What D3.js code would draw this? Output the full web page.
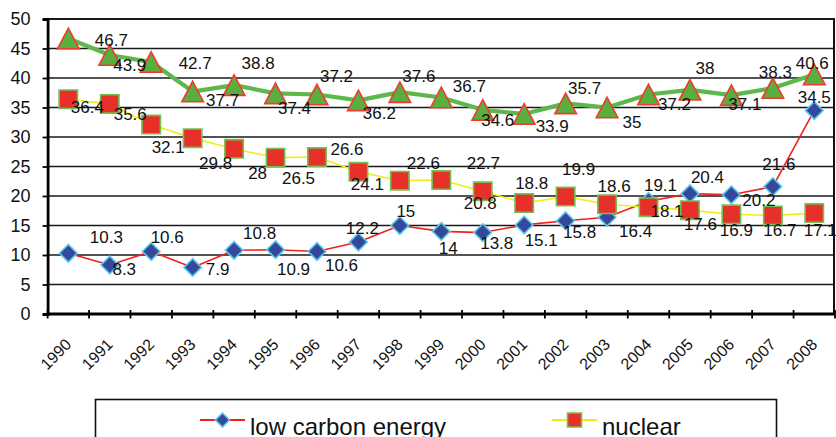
<!DOCTYPE html>
<html>
<head>
<meta charset="utf-8">
<script src="https://cdn.jsdelivr.net/npm/d3@7"></script>
<style>
  html, body { margin: 0; padding: 0; background: #fff; }
  svg { display: block; font-family: "Liberation Sans", Arial, sans-serif; }
</style>
</head>
<body>
<svg id="chart" width="836" height="437"></svg>
<script>
// ---- data ----
const years = ["1990","1991","1992","1993","1994","1995","1996","1997","1998","1999",
               "2000","2001","2002","2003","2004","2005","2006","2007","2008"];
const lowCarbon = [10.3, 8.3, 10.6, 7.9, 10.8, 10.9, 10.6, 12.2, 15, 14,
                   13.8, 15.1, 15.8, 16.4, 19.1, 20.4, 20.2, 21.6, 34.5];
const nuclear = [36.4, 35.6, 32.1, 29.8, 28, 26.5, 26.6, 24.1, 22.6, 22.7,
                 20.8, 18.8, 19.9, 18.6, 18.1, 17.6, 16.9, 16.7, 17.1];
const renewables = [46.7, 43.9, 42.7, 37.7, 38.8, 37.4, 37.2, 36.2, 37.6, 36.7,
                    34.6, 33.9, 35.7, 35, 37.2, 38, 37.1, 38.3, 40.6];
const yTicks = [0, 5, 10, 15, 20, 25, 30, 35, 40, 45, 50];
const legendNames = ["low carbon energy", "nuclear"];

// ---- label placement (offset of label centre from its marker, px) ----
const lowCarbonLabelOffsets = [[38,-16.5],[14.5,3.5],[16,-15],[25,1],[25.5,-17],[18,19],[24.5,13.5],
  [4,-14.5],[6,-14.5],[7,16],[14,10],[17,15],[14,11],[28.5,14],[12,-16],[17.5,-16.5],[27.5,5],[6,-23],[0,-14]];
const nuclearLabelOffsets = [[19,7.5],[20.5,10],[17,22],[23,25],[23.5,24],[23,20],[30,-8.5],[9,12],
  [23.5,-18],[42,-17],[-2.5,12],[7.5,-20.5],[13,-27.5],[7,-18],[18.5,4],[10.5,14],[5,16],[7,14.5],[6,17]];
const renewablesLabelOffsets = [[43,1.5],[20,10],[44,1],[30,8],[24,-22],[19,15],[19.5,-18.5],[21,12.6],
  [19,-16],[28,-11.5],[15,10],[28,12],[19,-15],[25,14.5],[26,9.5],[15,-22],[13.5,9],[2.5,-16],[-2,-11.5]];

// ---- layout ----
const plot = { left: 47.6, right: 835, top: 19, bottom: 314 };

const svg = d3.select("#chart");

const x = d3.scaleBand().domain(years).range([plot.left, plot.right]).paddingInner(0).paddingOuter(0);
const y = d3.scaleLinear().domain([0, 50]).range([plot.bottom, plot.top]);
const cx = d => x(d) + x.bandwidth() / 2;

// gridlines
svg.append("g").selectAll("line").data(yTicks.filter(t => t > 0)).join("line")
  .attr("x1", plot.left).attr("x2", plot.right)
  .attr("y1", d => y(d)).attr("y2", d => y(d))
  .attr("stroke", "#1a1a1a").attr("stroke-width", d => d === 50 ? 2 : 1.6);

// right border
svg.append("line")
  .attr("x1", plot.right - 1).attr("x2", plot.right - 1)
  .attr("y1", y(50)).attr("y2", y(0))
  .attr("stroke", "#111").attr("stroke-width", 2);

// y axis
const yAxis = svg.append("g")
  .attr("transform", `translate(${plot.left},0)`)
  .call(d3.axisLeft(y).tickValues(yTicks).tickSize(5).tickPadding(12).tickFormat(d3.format("d")));
yAxis.select(".domain").attr("stroke", "#000").attr("stroke-width", 2.8);
yAxis.selectAll(".tick line").attr("stroke", "#000").attr("stroke-width", 1.8);
yAxis.selectAll(".tick text").attr("font-size", 18).attr("fill", "#111")
  .attr("font-family", "Liberation Sans, Arial, sans-serif");

// x axis labels (rotated) via axisBottom on the band scale
const xAxis = svg.append("g")
  .attr("transform", `translate(0,${plot.bottom})`)
  .call(d3.axisBottom(x).tickSize(0).tickPadding(0));
xAxis.select(".domain").remove();
xAxis.selectAll(".tick text")
  .attr("font-size", 16).attr("fill", "#111")
  .attr("font-family", "Liberation Sans, Arial, sans-serif")
  .attr("text-anchor", "end").attr("dy", null).attr("y", 0)
  .attr("transform", "translate(4,31.5) rotate(-45)");

// x axis line with crossing tick marks at category boundaries
const boundaries = years.map(d => x(d)).concat([x(years[years.length - 1]) + x.bandwidth()]);
svg.append("line")
  .attr("x1", plot.left).attr("x2", plot.right)
  .attr("y1", plot.bottom).attr("y2", plot.bottom)
  .attr("stroke", "#000").attr("stroke-width", 2.8);
svg.append("g").selectAll("line").data(boundaries).join("line")
  .attr("x1", d => d).attr("x2", d => d)
  .attr("y1", plot.bottom - 4).attr("y2", plot.bottom + 4.5)
  .attr("stroke", "#000").attr("stroke-width", 1.8);

// marker shapes
const diamondPath = r => `M0,${-r}L${r},0L0,${r}L${-r},0Z`;
const squarePath = s => `M${-s},${-s}H${s}V${s}H${-s}Z`;
const trianglePath = (hw, h) => `M0,${-h / 2}L${hw},${h / 2}L${-hw},${h / 2}Z`;

const series = [
  { values: lowCarbon, line: "#f0201c", lineWidth: 1.6, fill: "#34499b", stroke: "#5ec8e8",
    shape: diamondPath(8.8), offsets: lowCarbonLabelOffsets },
  { values: nuclear, line: "#f0ee14", lineWidth: 1.6, fill: "#e8302a", stroke: "#72c052",
    shape: squarePath(9.2), offsets: nuclearLabelOffsets },
  { values: renewables, line: "#5cb84a", lineWidth: 4.2, fill: "#5aae3e", stroke: "#f03a30",
    shape: trianglePath(10.8, 20.5), offsets: renewablesLabelOffsets }
];

const lineGen = d3.line().x((v, i) => cx(years[i])).y(v => y(v));

series.forEach(s => {
  const g = svg.append("g");
  g.append("path").attr("d", lineGen(s.values))
    .attr("fill", "none").attr("stroke", s.line).attr("stroke-width", s.lineWidth)
    .attr("stroke-linejoin", "round");
  g.selectAll("path.mark").data(s.values).join("path").attr("class", "mark")
    .attr("d", s.shape)
    .attr("transform", (v, i) => `translate(${cx(years[i])},${y(v)})`)
    .attr("fill", s.fill).attr("stroke", s.stroke).attr("stroke-width", 1.6);
});

// value labels on top
series.forEach(s => {
  svg.append("g").selectAll("text").data(s.values).join("text")
    .attr("x", (v, i) => cx(years[i]) + s.offsets[i][0])
    .attr("y", (v, i) => y(v) + s.offsets[i][1])
    .attr("dy", "0.36em")
    .attr("text-anchor", "middle")
    .attr("font-size", 17).attr("fill", "#111")
    .text(v => String(v));
});

// legend (box continues past the bottom edge of the page)
const legend = svg.append("g");
legend.append("rect")
  .attr("x", 95.5).attr("y", 399.5).attr("width", 681).attr("height", 80)
  .attr("fill", "#fff").attr("stroke", "#111").attr("stroke-width", 1.6);
const legendX = [200, 552];
legendNames.forEach((name, k) => {
  const s = series[k];
  const lg = legend.append("g").attr("transform", `translate(${legendX[k]},420)`);
  lg.append("line").attr("x1", 0).attr("x2", 45).attr("y1", 0).attr("y2", 0)
    .attr("stroke", s.line).attr("stroke-width", 2);
  lg.append("path").attr("d", k === 0 ? diamondPath(7) : squarePath(7))
    .attr("transform", "translate(22.5,0)")
    .attr("fill", s.fill).attr("stroke", s.stroke).attr("stroke-width", 1.6);
  lg.append("text").attr("x", 50).attr("y", 15)
    .attr("font-size", 24).attr("fill", "#111").text(name);
});
</script>
</body>
</html>
